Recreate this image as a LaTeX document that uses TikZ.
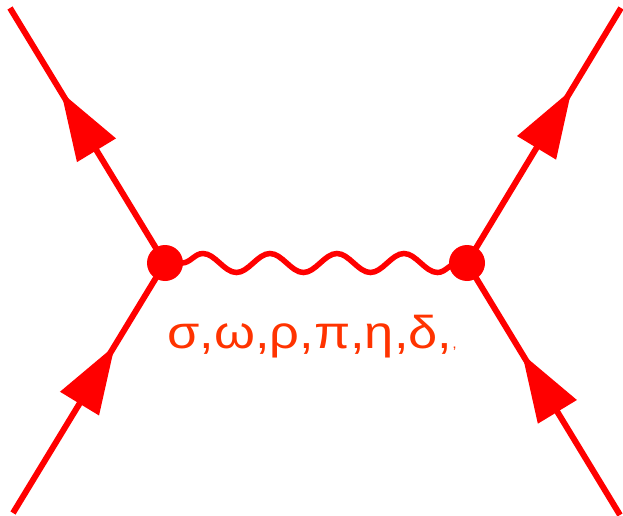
\documentclass[tikz,border=0pt]{standalone}
\usepackage{fontspec}
\setmainfont{Liberation Sans}
\usetikzlibrary{arrows.meta, decorations.pathmorphing, decorations.markings}
\definecolor{lineRed}{RGB}{255,0,0}
\definecolor{labelRed}{RGB}{255,51,0}

\begin{document}
\begin{tikzpicture}[
  x=1pt, y=1pt,
  fermion/.style = {line width=6pt, lineRed, postaction={decorate},
    decoration={markings, mark=at position #1 with {\arrow{Triangle[length=68pt, width=44pt]}}}},
  fermion/.default=0.65,
  meson/.style   = {line width=5.5pt, lineRed, decorate,
    decoration={snake, segment length=67pt, amplitude=9.5pt, pre length=17pt, post length=0pt}},
  vtx/.style     = {circle, fill=lineRed, inner sep=0pt, minimum size=36pt},
  lbl/.style     = {font=\fontsize{46}{50}\selectfont, text=labelRed, anchor=base},
]
  \useasboundingbox (0,0) rectangle (623,515);
  % vertices and free ends
  \coordinate (v1) at (165,252);
  \coordinate (v2) at (467,252);
  \coordinate (inL)  at (13,2);
  \coordinate (outL) at (10,507);
  \coordinate (outR) at (621,507);
  \coordinate (inR)  at (620,0);
  % exchanged meson
  \draw[meson] (v1) -- (v2);
  % nucleon lines
  \foreach \a/\b/\p in {inL/v1/0.67, v1/outL/0.67, v2/outR/0.68, inR/v2/0.64}
    \draw[fermion=\p] (\a) -- (\b);
  \node[vtx] (d1) at (v1) {};
  \node[vtx] (d2) at (v2) {};
  \node[lbl] (mesons) at (312,167) {\scalebox{1.14}[1]{σ,ω,ρ,π,η,δ,{\fontsize{14}{14}\selectfont ,}}};
\end{tikzpicture}
\end{document}
